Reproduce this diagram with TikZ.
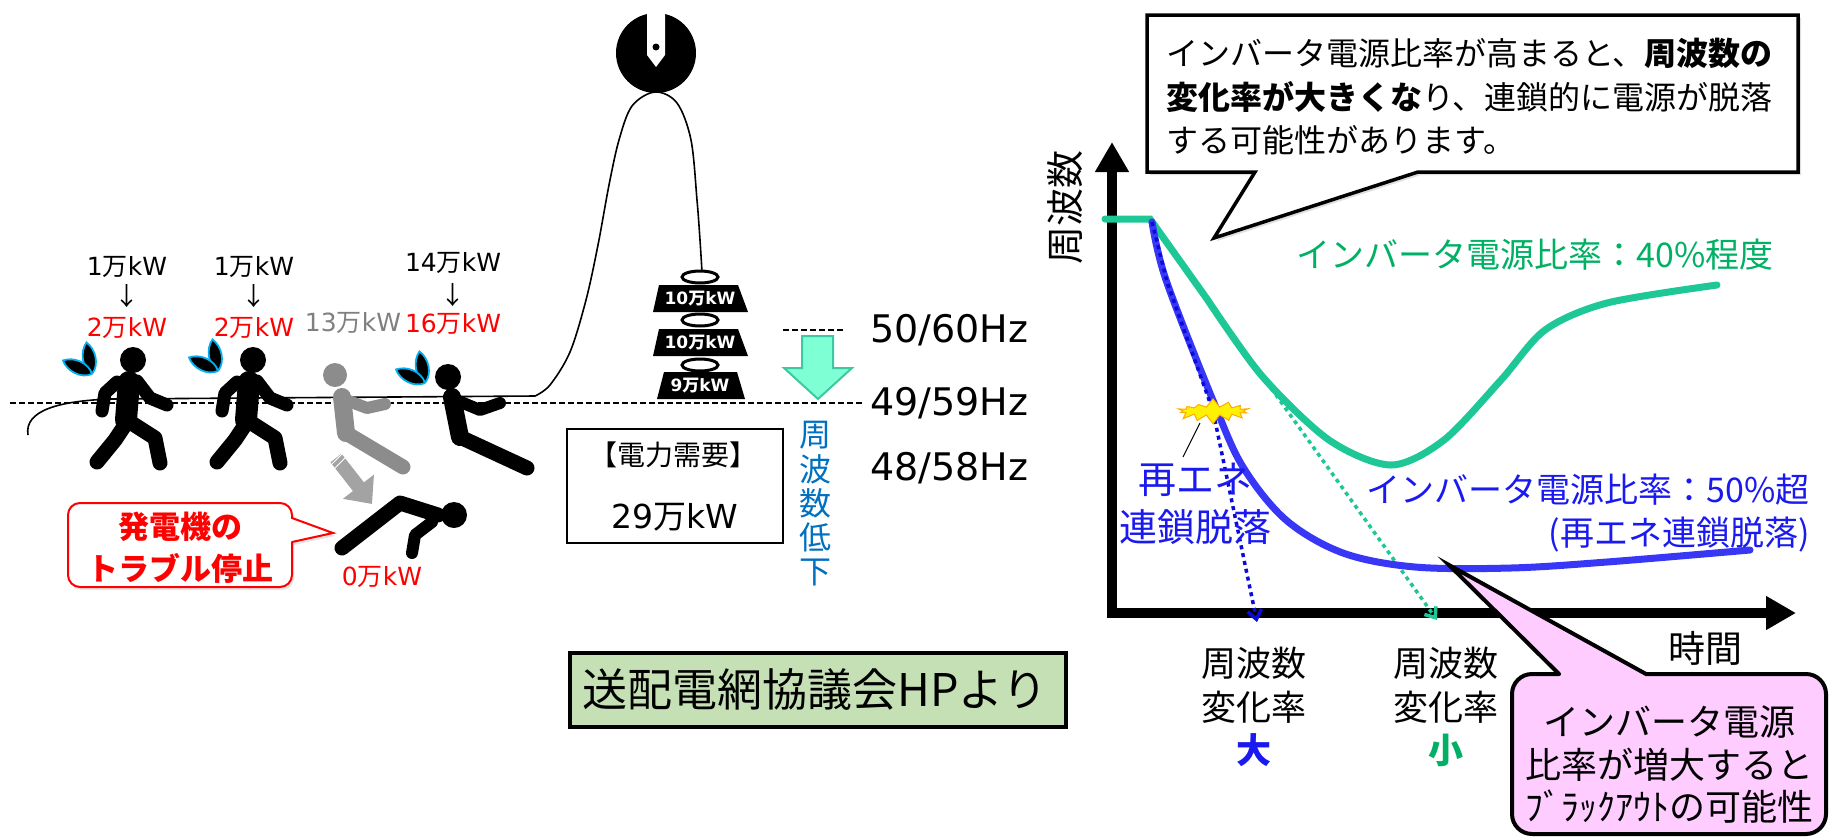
\documentclass[tikz,border=0pt]{standalone}
\usepackage{fontspec}
\setmainfont{Noto Sans CJK JP}
\newfontfamily\dv{DejaVu Sans}
\usetikzlibrary{arrows.meta,shapes.symbols,shadows}
\newcommand\fs[1]{\fontsize{#1}{#1}\selectfont}
\newcommand\mkw[1]{{\dv #1}{\rmfamily 万}{\dv kW}}

\definecolor{kwred}{RGB}{255,0,0}
\definecolor{kwgray}{RGB}{128,128,128}
\definecolor{hzblue}{RGB}{0,112,192}
\definecolor{srcgreen}{RGB}{197,224,180}
\definecolor{aquafill}{RGB}{127,255,212}
\definecolor{aquadraw}{RGB}{60,200,160}
\definecolor{lowgreen}{RGB}{30,200,150}
\definecolor{lowgreentxt}{RGB}{0,176,100}
\definecolor{highblue}{RGB}{55,55,245}
\definecolor{highbluetxt}{RGB}{25,25,240}
\definecolor{dotblue}{RGB}{10,10,220}
\definecolor{notepink}{RGB}{255,204,255}
\definecolor{burstedge}{RGB}{255,170,0}
\definecolor{sweatedge}{RGB}{0,176,240}
\definecolor{fallgray}{RGB}{140,140,140}

\tikzset{
  every node/.style={inner sep=0pt},
  limb/.style={line width=13pt, line cap=round, line join=round},
  legline/.style={line width=15pt, line cap=round, line join=round},
  trunk/.style={line width=22pt, line cap=round, line join=round},
  leaf/.style={fill=black, draw=sweatedge, line width=1.8pt},
  ring/.style={draw=black, line width=3pt},
  platetxt/.style={text=white, font=\dv\bfseries\fs{17}},
  kwlabel/.style={font=\fs{25}},
  hzlabel/.style={anchor=west, font=\dv\fs{38}},
  axis/.style={line width=10pt, {Triangle[length=30pt,width=32pt]}-{Triangle[length=30pt,width=32pt]}},
  dotarrow/.style={line width=3.5pt, dash pattern=on 4pt off 4pt, -{Straight Barb[length=9pt,width=14pt]}},
  puller/.pic={
    \fill (0,0) circle (13);
    \draw[trunk] (-4,22) -- (-7,60);
    \draw[limb] (-16,22) -- (-28,33) -- (-31,51);
    \draw[limb] (4,21) -- (17,38) -- (34,45);
    \draw[legline] (-6,62) -- (-18,80) -- (-36,102);
    \draw[legline] (-3,62) -- (22,78) -- (27,103);
  },
  sweat/.pic={
    \begin{scope}[rotate=100]
      \draw[leaf] (0,0) .. controls (8,9) and (24,8) .. (32,0) .. controls (24,-8) and (8,-9) .. (0,0);
    \end{scope}
    \begin{scope}[rotate=155]
      \draw[leaf] (0,0) .. controls (8,9) and (24,8) .. (32,0) .. controls (24,-8) and (8,-9) .. (0,0);
    \end{scope}
  }
}

\begin{document}
\begin{tikzpicture}[x=1pt,y=-1pt]
\useasboundingbox (0,0) rectangle (1831,836);

% ---------- tug of war ----------
\draw[line width=1.2pt, dash pattern=on 6pt off 3pt] (10,403) -- (862,403);
\draw[line width=1.2pt, dash pattern=on 6pt off 3pt] (783,330) -- (843,330);

% rope over the pulley
\draw[line width=1.6pt] (28,435) .. controls (24,410) and (60,401) .. (110,399) -- (535,396)
  -- plot[smooth, tension=0.55] coordinates {(535,396) (550,385) (570,352) (586,300) (598,245)
     (609,185) (619,140) (632,106) (655,92) (677,103) (691,140) (697,200) (700,240) (702,272)};

% pulley
\fill (656,53) circle (40);
\fill[white] (647,12) -- (665,12) -- (665,55) -- (656,67) -- (647,55) -- cycle;
\fill (656,47) circle (3.5);

% weights
\draw[ring] (700,277) ellipse (18 and 6);
\fill (659,285) -- (738,285) -- (748,312) -- (653,312) -- cycle;
\node[platetxt] (w1) at (700,299) {\mkw{10}};
\draw[ring] (700,320) ellipse (18 and 6);
\fill (659,329) -- (738,329) -- (748,356) -- (653,356) -- cycle;
\node[platetxt] (w2) at (700,343) {\mkw{10}};
\draw[ring] (700,365) ellipse (18 and 6);
\fill (664,372) -- (737,372) -- (745,399) -- (657,399) -- cycle;
\node[platetxt] (w3) at (700,386) {\mkw{9}};

% frequency drop arrow
\draw[fill=aquafill, draw=aquadraw, line width=2pt, line join=miter]
  (802,336) -- (833,336) -- (833,368) -- (852,368) -- (818,399) -- (784,368) -- (802,368) -- cycle;

\node[hzlabel] (f50) at (870,330) {50/60Hz};
\node[hzlabel] (f49) at (870,403) {49/59Hz};
\node[hzlabel] (f48) at (870,468) {48/58Hz};

\foreach \c [count=\i from 0] in {周,波,数,低,下}
  \node[font=\fs{32}, text=hzblue] at (815,435+34.25*\i) {\c};

% demand box
\draw[line width=2pt] (567,429) rectangle (783,543);
\node[font=\fs{28}] (dm) at (673,455) {【電力需要】};
\node[font=\fs{33}] (dv) at (675,517) {\mkw{29}};

% source box
\draw[fill=srcgreen, line width=4pt] (570,653) rectangle (1066,727);
\node[font=\fs{45}] (src) at (815,690) {送配電網協議会HPより};

% people
\pic at (133,360) {puller};
\pic at (253,360) {puller};
\pic at (92,374) {sweat};
\pic at (218,371) {sweat};
\pic at (425,383) {sweat};

% gray falling generator
\fill[fallgray] (335,375) circle (12);
\draw[fallgray, line width=18pt, line cap=round] (342,397) -- (346,433);
\draw[fallgray, limb, line width=12pt] (346,400) -- (367,408) -- (385,404);
\draw[fallgray, legline] (346,433) -- (403,467);

% right puller leaning back
\fill (448,377) circle (13);
\draw[line width=18pt, line cap=round] (452,397) -- (460,437);
\draw[limb, line width=12pt] (456,400) -- (480,410) -- (500,403);
\draw[legline] (460,437) -- (527,468);

% fallen generator
\fill (454,515) circle (13);
\draw[legline] (438,515) -- (400,503) -- (342,548);
\draw[limb, line width=12pt] (432,522) -- (415,535) -- (412,553);

% falling arrow
\draw[line width=14pt, fallgray!80, -{Triangle[length=22pt,width=38pt]}] (336,458) -- (372,504);
\draw[white, line width=1pt] (331,465) -- (343,453) (334,469) -- (346,457);

% power labels
\node[kwlabel] (a1) at (127,267) {\mkw{1}};
\node[kwlabel] (b1) at (127,296) {↓};
\node[kwlabel, text=kwred] (c1) at (127,328) {\mkw{2}};
\node[kwlabel] (a2) at (254,267) {\mkw{1}};
\node[kwlabel] (b2) at (254,296) {↓};
\node[kwlabel, text=kwred] (c2) at (254,328) {\mkw{2}};
\node[kwlabel, text=kwgray] (c3) at (353,323) {\mkw{13}};
\node[kwlabel] (a4) at (453,263) {\mkw{14}};
\node[kwlabel] (b4) at (453,295) {↓};
\node[kwlabel, text=kwred] (c4) at (453,324) {\mkw{16}};
\node[kwlabel, text=kwred] (c5) at (382,577) {\mkw{0}};

% trip callout
\draw[fill=white, draw=kwred, line width=2pt, line cap=round,
      drop shadow={opacity=0.2, shadow xshift=2pt, shadow yshift=-3pt}]
  (292,542) -- (333,533) -- (292,518) [rounded corners=12] -- (292,503) -- (68,503)
  -- (68,587) -- (292,587) -- (292,542);
\node[font=\bfseries\fs{31}, text=kwred] (t1) at (180,527) {発電機の};
\node[font=\bfseries\fs{31}, text=kwred] (t2) at (180,568) {トラブル停止};

% ---------- frequency graph ----------
\draw[fill=white, line width=3.5pt, line join=miter,
      drop shadow={opacity=0.25, shadow xshift=3pt, shadow yshift=-3pt}]
  (1147,15) -- (1798,15) -- (1798,172) -- (1418,172) -- (1214,238) -- (1255,172) -- (1147,172) -- cycle;
\node[anchor=west, font=\fs{32}] (n1) at (1166,53) {インバータ電源比率が高まると、{\bfseries 周波数の}};
\node[anchor=west, font=\fs{32}] (n2) at (1166,97) {{\bfseries 変化率が大きくな}り、連鎖的に電源が脱落};
\node[anchor=west, font=\fs{32}] (n3) at (1166,140) {する可能性があります。};

\draw[axis, line join=miter] (1112,142) -- (1112,613) -- (1796,613);
\node[font=\fs{38}, rotate=90] (ylab) at (1065,207) {周波数};
\node[font=\fs{37}] (xlab) at (1705,648) {時間};

% response curves
\draw[dotarrow, lowgreen] (1150,219) -- (1437,620);
\draw[lowgreen, line width=7pt, line cap=round] (1105,219) -- (1150,219)
  -- (1207,299) -- plot[smooth, tension=0.5] coordinates {(1207,299) (1262,376) (1329,440)
     (1391,465) (1444,440) (1501,380) (1545,330) (1607,303) (1717,285)};
\draw[highblue, line width=7pt, line cap=round]
  plot[smooth, tension=0.55] coordinates {(1152,222) (1166,280) (1214,403) (1243,467)
     (1286,520) (1343,553) (1415,567) (1511,568) (1607,562) (1750,550)};

\draw[dotarrow, dotblue] (1152,222) -- (1167,282) -- (1213,411) -- (1257,622);

\node[starburst, starburst points=14, starburst point height=9pt, random starburst=7,
      fill=yellow, draw=burstedge, line width=1pt, minimum width=78pt, minimum height=26pt]
  (burst) at (1213,411) {};
\draw[line width=1pt] (1200,423) -- (1183,457);
\node[font=\fs{38}, text=highbluetxt] (re1) at (1195,480) {再エネ};
\node[font=\fs{38}, text=highbluetxt] (re2) at (1195,527) {連鎖脱落};

\node[font=\fs{34}, text=lowgreentxt] (g40) at (1535,255) {インバータ電源比率：40\%程度};
\node[anchor=east, font=\fs{34}, text=highbluetxt] (b50) at (1810,490) {インバータ電源比率：50\%超};
\node[anchor=east, font=\fs{34}, text=highbluetxt] (b50b) at (1810,535) {(再エネ連鎖脱落)};

\node[font=\fs{35}] (r1) at (1254,663) {周波数};
\node[font=\fs{35}] (r2) at (1254,707) {変化率};
\node[font=\bfseries\fs{35}, text=highbluetxt] (r3) at (1254,750) {大};
\node[font=\fs{35}] (s1) at (1446,663) {周波数};
\node[font=\fs{35}] (s2) at (1446,707) {変化率};
\node[font=\bfseries\fs{35}, text=lowgreentxt] (s3) at (1446,750) {小};

% blackout note
\draw[fill=notepink, line width=4pt, line cap=round, line join=miter]
  (1559,674) -- (1449,565) -- (1646,674) [rounded corners=20] -- (1826,674) -- (1826,834)
  -- (1512,834) -- (1512,674) -- (1559,674);
\node[font=\fs{36}] (p1) at (1669,722) {インバータ電源};
\node[font=\fs{36}] (p2) at (1669,765) {比率が増大すると};
\node[font=\fs{36}] (p3) at (1669,807) {ﾌﾞﾗｯｸｱｳﾄの可能性};

\end{tikzpicture}
\end{document}
